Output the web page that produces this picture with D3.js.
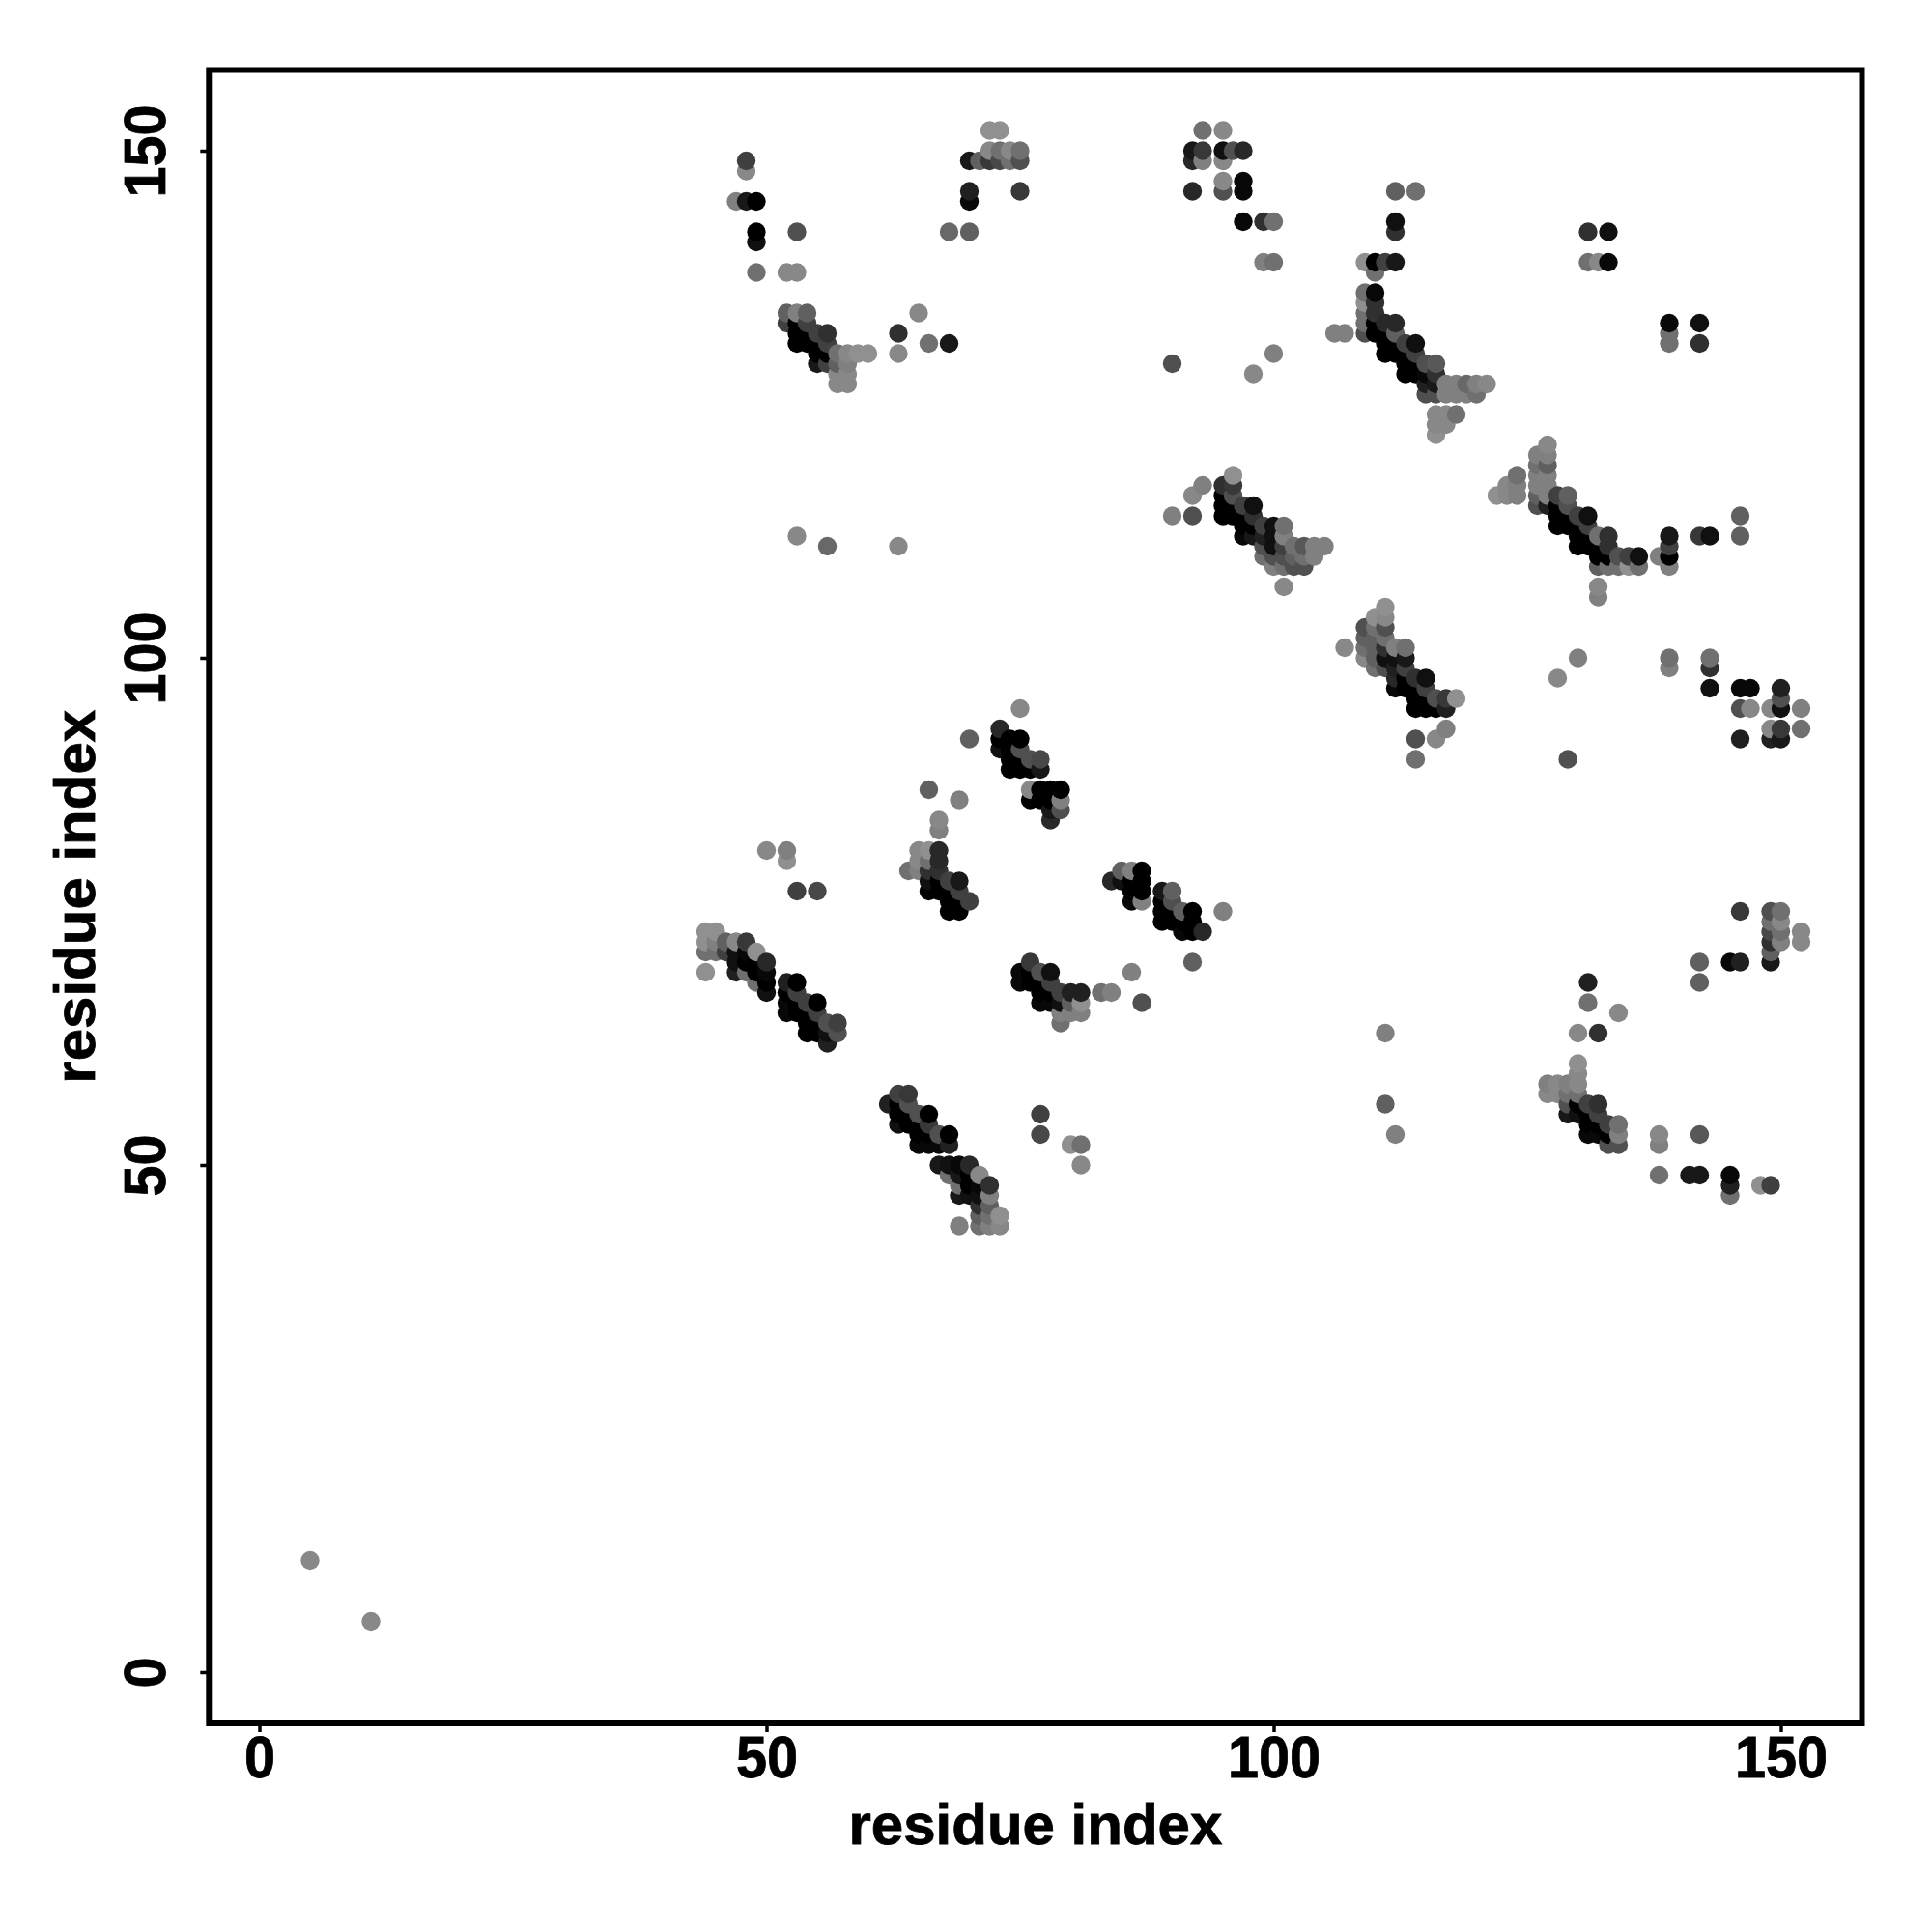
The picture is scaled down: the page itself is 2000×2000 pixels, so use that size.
<!DOCTYPE html>
<html><head><meta charset="utf-8">
<script src="https://cdnjs.cloudflare.com/ajax/libs/d3/7.8.5/d3.min.js"></script>
<style>html,body{margin:0;padding:0;background:#fff}svg{display:block}</style>
</head><body><svg id="c" width="2000" height="2000"></svg>
<script>
// Each contact: [residue i, residue j, strength 0 (weak) .. 9 (strong)]
const isolated=[[5,11,.5],[11,5,.5],[53,112,.5],[56,111,2.5],[63,111,.5],[63,132,6],[63,130,.5],[65,134,.5],[66,131,2],[68,131,7.5],
[90,129,4],[100,130,1],[98,128,.5],[106,132,1],[107,132,1],[111,63,1],[111,56,3],[112,53,1],[50,81,.5],[52,81,1],[52,80,0],[53,77,5],[55,77,4.5],
[66,87,3],[69,86,1],[67,84,.5],[67,83,1],[70,92,3],[75,95,.5],[95,75,1],[92,70,3],[86,69,1],[83,67,2],[84,67,1],[87,66,4],[77,55,5],[77,53,4.5],[80,52,0],[81,52,2],[81,50,.5]];
const topLeft=[[48,149,5],[48,148,.5],[47,145,1],[48,145,7.5],[49,145,9],[49,142,9],[49,141,8],[53,142,4],[49,138,2],[52,138,.5],[53,138,.5]];
const topMid=[[72,152,0],[73,152,0],[72,150,.5],[73,150,2],[74,150,.5],[75,150,2],[70,149,7.5],[71,149,3],[72,149,5.5],[73,149,4.5],[74,149,2],[75,149,4],[70,146,7],[70,145,8.5],[75,146,5.5],[68,142,2.5],[70,142,3]];
const helixA=[[52,134,3],[53,134,1],[54,134,3],[52,133,5],[53,133,9],[54,133,5],[53,132,9],[54,132,9],[55,132,5],[56,132,6],[53,131,9],[54,131,9],[55,131,9],[56,131,5],[55,130,9],[56,130,9],[57,130,2],[58,130,.5],[59,130,0],[60,130,0],[55,129,7.5],[56,129,5],[57,129,3],[58,129,1],[57,128,.5],[58,128,.5],[57,127,.5],[58,127,.5]];
const topRight=[[93,152,2],[95,152,.5],[92,150,7.5],[93,150,5.5],[95,150,8],[96,150,4],[97,150,6.5],[92,149,6.5],[93,149,1],[95,149,.5],[95,147,.5],[97,147,8.5],[95,146,4],[97,146,8.5],[92,146,6.5],[97,143,8.5],[99,143,6],[100,143,2],[99,139,1],[100,139,2],[131,142,6],[133,142,8],[131,139,2],[132,139,.5],[133,139,8.5],[139,133,8.5],[139,132,2],[139,131,2],[142,133,8],[142,131,6]];
const helixB=[[109,139,0],[110,139,9],[111,139,5],[112,139,7.5],[110,138,2],[112,143,8],[112,142,6],[112,146,3],[114,146,2],[109,136,2],[110,136,8.5],[109,135,0],[110,135,6],[109,134,2],[110,134,6],[109,133,2],[110,133,9],[111,133,6.5],[112,133,6.5],[109,132,4],[110,132,9],[111,132,9],[112,132,3],[111,131,9],[112,131,9],[113,131,5],[114,131,8],[111,130,9],[112,130,9],[113,130,9],[114,130,5],[113,129,9],[114,129,9],[115,129,4],[116,129,3.5],[113,128,9],[114,128,9],[115,128,8.5],[116,128,6],[115,127,7],[116,127,7.5],[117,127,1],[118,127,1],[119,127,2.5],[120,127,1],[121,127,.5],[115,126,4],[116,126,4],[117,126,1],[118,126,1],[119,126,1],[120,126,2],[116,124,.5],[117,124,.5],[118,124,2],[116,123,.5],[117,123,.5],[116,122,0]];
const helixC=[[96,118,0],[93,117,1],[92,116,.5],[90,114,1],[92,114,4],[95,117,6],[96,117,5.5],[95,116,9],[96,116,4],[95,115,9],[96,115,9],[97,115,5],[98,115,8],[95,114,9],[96,114,9],[97,114,9],[98,114,6],[97,113,9],[98,113,9],[99,113,5],[100,113,8],[101,113,2],[97,112,8.5],[98,112,7.5],[99,112,7],[100,112,8],[101,112,1],[99,111,4],[100,111,8],[101,111,5],[102,111,2],[103,111,3.5],[104,111,1],[105,111,1],[99,110,2],[100,110,4],[101,110,4],[102,110,3],[103,110,2],[104,110,1],[100,109,1],[101,109,2],[102,109,4],[103,109,4],[101,107,.5]];
const helixD=[[111,105,0],[110,104,0],[111,104,.5],[109,103,4],[110,103,2],[111,103,4],[109,102,3],[110,102,3],[111,102,2],[107,101,.5],[109,101,2],[110,101,3],[111,101,6],[112,101,1],[113,101,2],[109,100,.5],[110,100,3],[111,100,8],[112,100,8],[113,100,7.5],[110,99,2],[111,99,4],[112,99,7],[113,99,5],[112,98,6.5],[113,98,9],[114,98,6],[115,98,8],[112,97,8.5],[113,97,9],[114,97,9],[115,97,5],[114,96,9],[115,96,9],[116,96,4],[117,96,5.5],[118,96,0],[114,95,9],[115,95,9],[116,95,9],[117,95,7],[114,92,4],[116,92,.5],[117,93,1],[114,90,2]];
const helixE=[[127,121,.5],[126,120,1],[127,120,1],[126,119,2],[127,119,3],[126,118,1],[127,118,1],[126,117,1],[127,117,1],[126,116,3],[127,116,1],[124,118,2],[123,117,.5],[124,117,1],[122,116,0],[123,116,.5],[124,116,1],[126,115,4],[127,115,7],[128,116,5],[129,116,3],[128,115,9],[129,115,4],[128,114,9],[129,114,9],[130,114,5],[131,114,8],[128,113,9],[129,113,9],[130,113,9],[131,113,5],[130,112,9],[131,112,9],[132,112,2],[133,112,6],[130,111,9],[131,111,9],[132,111,9],[133,111,6],[132,110,9],[133,110,9],[134,110,4],[135,110,5],[136,110,8],[132,109,3],[133,109,2],[134,109,2],[135,109,0],[136,109,2],[132,107,.5],[132,106,1],[138,110,1],[139,112,7.5],[139,111,5],[139,110,9],[139,109,1],[142,112,5.5],[143,112,8],[146,114,3],[146,112,3]];
const rightEdge=[[130,100,1],[128,98,.5],[129,90,4],[139,100,2],[139,99,1],[143,100,2],[143,99,6],[143,97,8],[146,97,8.5],[147,97,8.5],[150,97,7],[146,95,4],[147,95,.5],[149,95,.5],[150,96,4],[150,95,8],[152,95,1],[149,93,.5],[150,93,5.5],[152,93,2],[146,92,7],[149,92,7],[150,92,7.5]];
const helixF=[[44,73,0],[45,73,0],[44,72,0],[45,72,1],[46,72,3],[47,72,.5],[48,72,5.5],[44,71,2],[45,71,2],[46,71,5],[47,71,8],[48,71,8.5],[49,71,0],[47,70,8],[48,70,9],[49,70,9],[50,70,6.5],[44,69,0],[47,69,7],[48,69,2],[49,69,9],[50,69,8.5],[49,68,2],[50,68,9],[50,67,8],[52,68,7],[53,68,9],[52,67,9],[53,67,5],[52,66,8.5],[53,66,9],[54,66,5],[55,66,9],[52,65,8.5],[53,65,9],[54,65,9],[55,65,5],[54,64,9],[55,64,9],[56,64,4],[57,64,5],[54,63,9],[55,63,9],[56,63,8],[57,63,4],[56,62,7]];
const helixG=[[65,81,.5],[66,81,0],[67,81,6.5],[65,80,.5],[66,80,2],[67,80,6.5],[64,79,2],[65,79,1],[66,79,6],[67,79,6],[66,78,8],[67,78,9],[68,78,5],[69,78,7.5],[66,77,9],[67,77,9],[68,77,9],[69,77,5],[68,76,9],[69,76,9],[70,76,5],[68,75,9],[69,75,9]];
const helixH=[[73,93,6.5],[73,92,9],[74,92,9],[75,92,9],[73,91,8],[74,91,9],[75,91,4],[74,90,9],[75,90,9],[76,90,4],[77,90,4.5],[74,89,9],[75,89,9],[76,89,9],[77,89,7.5],[76,87,.5],[77,87,9],[78,87,9],[79,87,9],[76,86,9],[77,86,9],[78,86,9],[79,86,1],[78,85,7.5],[79,85,4],[78,84,6.5]];
const helixI=[[84,78,6.5],[85,79,3],[86,79,1],[87,79,9],[85,78,8],[86,78,9],[87,78,9],[86,77,9],[87,77,9],[86,76,8.5],[87,76,1],[89,77,7.5],[90,77,3],[89,76,9],[90,76,4],[89,75,9],[90,75,9],[91,75,3],[92,75,9],[89,74,9],[90,74,9],[91,74,9],[92,74,9],[91,73,8.5],[92,73,9],[93,73,6.5]];
const helixJ=[[76,70,5.5],[75,69,8.5],[75,68,8.5],[76,69,9],[76,68,9],[77,69,4],[78,69,8],[77,68,9],[78,68,5],[77,67,9],[78,67,9],[79,67,5],[80,67,7],[81,67,7],[77,66,8.5],[78,66,8.5],[79,66,8],[80,66,3],[81,66,0],[79,65,1],[80,65,1],[81,65,1],[79,64,2]];
const helixK=[[63,57,5],[64,57,5.5],[62,56,7],[63,56,9],[64,56,4],[63,55,9],[64,55,9],[65,55,4],[66,55,9],[63,54,8],[64,54,9],[65,54,9],[66,54,5.5],[65,53,9],[66,53,9],[67,53,4],[68,53,9],[65,52,8.5],[66,52,8.5],[67,52,8.5],[68,52,7],[67,50,7.5],[68,50,8],[69,50,8.5],[70,50,6.5],[68,49,2],[69,49,7.5],[70,49,9],[71,49,.5],[69,48,2],[70,48,9],[71,48,8.5],[72,48,6],[69,47,7.5],[70,47,8],[71,47,8],[72,47,1],[71,46,6],[72,46,3],[71,45,3],[72,45,2],[73,45,0],[71,44,2],[72,44,1],[73,44,.5],[69,44,1]];
const helixL=[[131,68,7],[131,66,2],[134,65,.5],[130,63,.5],[132,63,6],[130,60,0],[130,59,.5],[127,58,1],[128,58,.5],[129,58,1],[130,58,.5],[127,57,.5],[128,57,.5],[129,57,2],[130,57,2],[129,56,4],[130,56,9],[131,56,5],[132,56,6],[129,55,7.5],[130,55,8],[131,55,9],[132,55,5],[131,54,9],[132,54,9],[133,54,5],[134,54,2],[131,53,8.5],[132,53,8.5],[133,53,9],[134,53,1],[133,52,4],[134,52,4]];
const lowerRight=[[138,53,.5],[138,52,1],[142,53,3.5],[138,49,2],[141,49,7.5],[142,49,7.5],[145,49,8.5],[145,48,7],[145,47,2],[148,48,0],[149,48,5],[146,75,5.5],[149,75,4],[150,75,2],[149,74,2],[150,74,.5],[149,73,4.5],[150,73,2],[152,73,.5],[149,72,6],[150,72,1],[152,72,.5],[149,71,3],[149,70,7.5],[142,70,3],[142,68,3],[145,70,8.5],[146,70,7]];
const xTicks=[0,50,100,150], yTicks=[0,50,100,150];
const xTitle="residue index", yTitle="residue index";

const contacts=[isolated,topLeft,topMid,helixA,topRight,helixB,helixC,helixD,helixE,rightEdge,helixF,helixG,helixH,helixI,helixJ,helixK,helixL,lowerRight].flat()
  .map(([i,j,s])=>({i,j,s}));
contacts.sort((a,b)=>a.i-b.i||a.j-b.j);

const font='"Liberation Sans",Arial,sans-serif';
const x=d3.scaleLinear().domain([0,150]).range([268.5,1843.5]);
const y=d3.scaleLinear().domain([0,150]).range([1731,156]);
const gray=d3.scaleLinear().domain([0,9]).range(["#909090","#000000"]);
const svg=d3.select("#c");
svg.append("g").selectAll("circle").data(contacts).join("circle")
  .attr("cx",d=>x(d.i)).attr("cy",d=>y(d.j)).attr("r",9.7).attr("fill",d=>gray(d.s));
const L=216.3,R=1927.5,T=72.5,B=1784;
svg.append("rect").attr("x",L).attr("y",T).attr("width",R-L).attr("height",B-T)
  .attr("fill","none").attr("stroke","#000").attr("stroke-width",6);
const xa=svg.append("g").attr("transform",`translate(0,${B})`)
  .call(d3.axisBottom(x).tickValues(xTicks).tickSize(9).tickPadding(14).tickFormat(d3.format("d")));
const ya=svg.append("g").attr("transform",`translate(${L},0)`)
  .call(d3.axisLeft(y).tickValues(yTicks).tickSize(9).tickFormat(d3.format("d")));
[xa,ya].forEach(a=>{a.select(".domain").remove();a.selectAll("line").attr("stroke","#000").attr("stroke-width",3.5);});
xa.selectAll("text").attr("font-family",font).attr("font-weight","bold").attr("font-size",62).attr("fill","#000")
  .attr("stroke","#000").attr("stroke-width",0.8)
  .attr("dy",null).attr("y",null).attr("text-anchor","middle").attr("transform",`translate(0,${1840-B}) scale(.93,1)`);
ya.selectAll("text").attr("font-family",font).attr("font-weight","bold").attr("font-size",62).attr("fill","#000")
  .attr("stroke","#000").attr("stroke-width",0.8)
  .attr("x",null).attr("dy",null).attr("text-anchor","middle").attr("transform",`translate(${171-L},0) rotate(-90) scale(.93,1)`);
svg.append("text").text(xTitle).attr("x",(L+R)/2).attr("y",1909).attr("text-anchor","middle")
  .attr("font-family",font).attr("font-weight","bold").attr("font-size",60).attr("stroke","#000").attr("stroke-width",0.8);
svg.append("text").text(yTitle).attr("transform",`translate(98,${(T+B)/2}) rotate(-90)`).attr("text-anchor","middle")
  .attr("font-family",font).attr("font-weight","bold").attr("font-size",60).attr("stroke","#000").attr("stroke-width",0.8);
</script></body></html>
